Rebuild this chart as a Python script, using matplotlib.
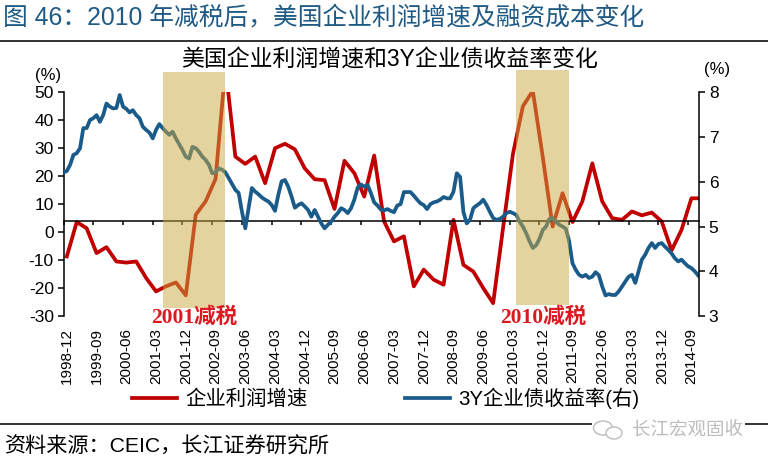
import numpy as np
import matplotlib.pyplot as plt
from matplotlib import transforms
from matplotlib.patches import Rectangle, Ellipse
from matplotlib.lines import Line2D

plt.rcParams['font.family'] = ['Liberation Sans', 'Noto Sans CJK SC']
plt.rcParams['axes.unicode_minus'] = False

# x axis: monthly, starting 1998-12
tick_labels = ['1998-12', '1999-09', '2000-06', '2001-03', '2001-12', '2002-09',
               '2003-06', '2004-03', '2004-12', '2005-09', '2006-06', '2007-03',
               '2007-12', '2008-09', '2009-06', '2010-03', '2010-12', '2011-09',
               '2012-06', '2013-03', '2013-12', '2014-09']

# 企业利润增速 (%), quarterly
profit_growth = [-8.7, 3.6, 1.4, -7.5, -5.4, -10.5, -10.9, -10.5, -16.4, -21.2,
                 -19.4, -18.0, -22.6, 6.2, 11.0, 19.0, 59.0, 27.0, 24.4, 27.0,
                 17.5, 30.0, 31.6, 29.6, 22.8, 18.9, 18.6, 8.3, 25.5, 21.1,
                 12.7, 27.4, 3.8, -3.3, -1.5, -19.4, -13.4, -17.0, -18.8, 4.4,
                 -11.7, -14.1, -20.0, -25.4, 1.5, 28.0, 45.0, 50.5, 27.0, 2.0,
                 13.9, 3.6, 11.0, 24.6, 11.0, 5.0, 4.4, 7.4, 6.0, 7.0,
                 3.8, -6.5, 0.8, 12.1, 12.1]

# 3Y企业债收益率 (%), monthly
bond_yield = [6.21, 6.24, 6.38, 6.60, 6.64, 6.75, 7.20, 7.20, 7.38, 7.42,
              7.49, 7.34, 7.49, 7.75, 7.68, 7.64, 7.65, 7.94, 7.68, 7.63,
              7.55, 7.60, 7.49, 7.42, 7.23, 7.16, 7.10, 6.97, 7.16, 7.29,
              7.20, 7.12, 7.05, 7.12, 6.97, 6.84, 6.71, 6.56, 6.52, 6.78,
              6.75, 6.67, 6.56, 6.49, 6.38, 6.19, 6.21, 6.30, 6.27, 6.21,
              6.08, 5.95, 5.82, 5.75, 5.33, 4.96, 5.41, 5.86, 5.78, 5.72,
              5.65, 5.60, 5.56, 5.48, 5.35, 5.71, 6.01, 6.04, 5.89, 5.67,
              5.42, 5.48, 5.52, 5.45, 5.37, 5.22, 5.37, 5.22, 5.07, 4.96,
              5.04, 5.11, 5.22, 5.30, 5.41, 5.37, 5.30, 5.41, 5.60, 5.87,
              5.94, 5.89, 5.93, 5.75, 5.54, 5.47, 5.38, 5.36, 5.39, 5.35,
              5.32, 5.47, 5.50, 5.77, 5.77, 5.77, 5.69, 5.60, 5.52, 5.48,
              5.39, 5.50, 5.54, 5.56, 5.60, 5.66, 5.63, 5.63, 5.78, 6.19,
              6.11, 5.33, 5.07, 5.15, 5.41, 5.47, 5.52, 5.60, 5.48, 5.33,
              5.19, 5.15, 5.17, 5.22, 5.30, 5.33, 5.30, 5.26, 5.11, 5.00,
              4.85, 4.67, 4.52, 4.58, 4.72, 4.92, 5.00, 5.17, 5.19, 5.11,
              5.04, 5.00, 4.95, 4.67, 4.18, 4.03, 3.92, 3.88, 3.92, 3.85,
              3.88, 3.98, 3.91, 3.66, 3.46, 3.49, 3.47, 3.47, 3.55, 3.66,
              3.77, 3.88, 3.92, 3.74, 4.00, 4.26, 4.37, 4.52, 4.63, 4.52,
              4.61, 4.63, 4.55, 4.48, 4.40, 4.29, 4.22, 4.26, 4.18, 4.11,
              4.07, 4.00, 3.91]

# 减税 periods (shaded)
cut_periods = [('2001减税', '2001-06', '2003-01'), ('2010减税', '2010-05', '2011-09')]

RED = '#C00000'
BLUE = '#1A5B8A'


def month_index(s):
    y, m = map(int, s.split('-'))
    return (y - 1998) * 12 + (m - 12)


fig = plt.figure(figsize=(7.68, 4.62), dpi=100)
ax = fig.add_axes([0.0827, 0.316, 0.8275, 0.4842])
ax2 = ax.twinx()

x_profit = np.arange(len(profit_growth)) * 3 + 1
x_yield = np.arange(len(bond_yield))

ax.plot(x_profit, profit_growth, color=RED, lw=2.7, solid_joinstyle='round')
ax2.plot(x_yield, bond_yield, color=BLUE, lw=2.7, solid_joinstyle='round')

ax.set_xlim(0, 192.3)
ax.set_ylim(-30, 50)
ax2.set_ylim(3, 8)

ax.set_yticks(range(-30, 51, 10))
ax2.set_yticks(range(3, 9))
ax.set_xticks([month_index(t) for t in tick_labels])
ax.set_xticklabels(tick_labels)

for a in (ax, ax2):
    a.spines['top'].set_visible(False)
    for s in a.spines.values():
        s.set_linewidth(1.1)
ax.spines['right'].set_visible(False)
ax2.spines['left'].set_visible(False)
ax2.spines['bottom'].set_visible(False)
ax.spines['bottom'].set_position(('data', 4))

ax.tick_params(axis='y', direction='out', length=4, width=1.1, labelsize=12.5, pad=3)
ax2.tick_params(axis='y', direction='out', length=4, width=1.1, labelsize=12.5, pad=3)
ax.tick_params(axis='x', direction='out', length=3, width=1.1, pad=74,
               labelrotation=90, labelsize=11)
# labels sit slightly right of their ticks in the original
shift = transforms.ScaledTranslation(0.035, 0, fig.dpi_scale_trans)
for lbl in ax.get_xticklabels():
    lbl.set_transform(lbl.get_transform() + shift)

ax.text(-0.024, 1.077, '(%)', transform=ax.transAxes, ha='center', va='center', fontsize=12)
ax2.text(1.028, 1.104, '(%)', transform=ax2.transAxes, ha='center', va='center', fontsize=12)

# shaded tax-cut periods, drawn over the lines
trans = transforms.blended_transform_factory(ax2.transData, ax2.transAxes)
shade_y = [(0.035, 1.09), (0.049, 1.10)]
for (label, s, e), (y0, y1) in zip(cut_periods, shade_y):
    x0, x1 = month_index(s), month_index(e)
    ax2.add_patch(Rectangle((x0, y0), x1 - x0, y1 - y0, transform=trans,
                            facecolor='#CBA941', alpha=0.5, edgecolor='none',
                            zorder=5, clip_on=False))
    ax2.text((x0 + x1) / 2, -0.008, label, transform=trans, ha='center', va='center',
             fontsize=15.5, fontweight='bold', color='#DC1820', zorder=6,
             family=['Liberation Serif', 'Noto Sans CJK SC'])

fig.text(0.004, 0.963, '图 46：2010 年减税后，美国企业利润增速及融资成本变化',
         fontsize=17.8, color='#1F5A85', va='center', ha='left')
fig.add_artist(Line2D([0, 1], [1 - 40.5 / 462] * 2, color='#222222', lw=1.3))
fig.text(0.507, 1 - 60 / 462, '美国企业利润增速和3Y企业债收益率变化', fontsize=16.5,
         ha='center', va='center')

handles = [Line2D([], [], color=RED, lw=2.7), Line2D([], [], color=BLUE, lw=2.7)]
fig.legend(handles, ['企业利润增速', '3Y企业债收益率(右)'], loc='center',
           bbox_to_anchor=(0.502, 1 - 398 / 462), ncol=2, frameon=False,
           fontsize=14.7, handlelength=2.2, columnspacing=4.8, handletextpad=0.4)

fig.add_artist(Line2D([0, 1], [1 - 424 / 462] * 2, color='#222222', lw=1.3))
fig.text(0.006, 1 - 447 / 462, '资料来源：CEIC，长江证券研究所', fontsize=15.2,
         ha='left', va='center')

# watermark sitting on the bottom rule
W, H = 768, 462
fig.add_artist(Rectangle((592 / W, 1 - 440 / H), 153 / W, 22 / H, transform=fig.transFigure,
                         facecolor='white', edgecolor='none', zorder=3))
fig.add_artist(Ellipse((603 / W, 1 - 428 / H), 19 / W, 14 / H, transform=fig.transFigure,
                       facecolor='white', edgecolor='#BDBDBD', lw=1.0, zorder=4))
fig.add_artist(Ellipse((614 / W, 1 - 433 / H), 16 / W, 12 / H, transform=fig.transFigure,
                       facecolor='white', edgecolor='#BDBDBD', lw=1.0, zorder=4))
fig.text(743 / W, 1 - 430 / H, '长江宏观固收', fontsize=13.3, color='#BDBDBD',
         ha='right', va='center', zorder=5)

fig.savefig('out.png', dpi=100)
